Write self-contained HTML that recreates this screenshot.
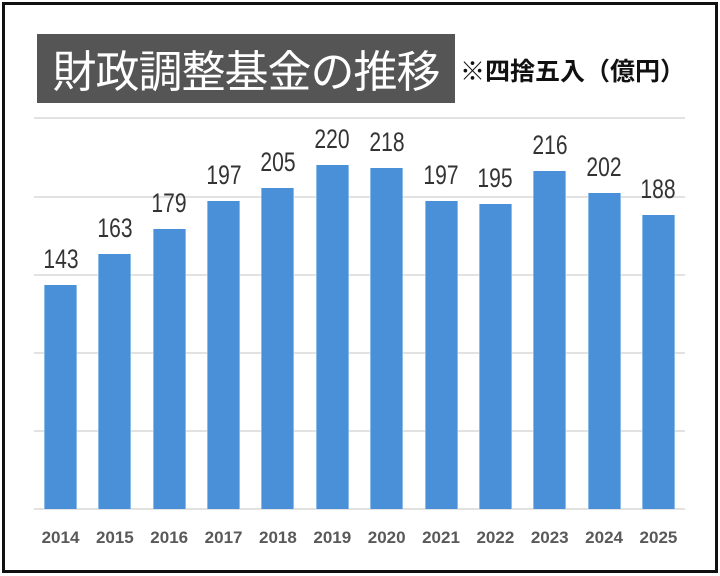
<!DOCTYPE html>
<html><head><meta charset="utf-8"><style>
body{margin:0;width:720px;height:576px;background:#fff;overflow:hidden;font-family:"Liberation Sans","Noto Sans CJK JP",sans-serif}
.frame{position:absolute;left:2px;top:2px;width:710px;height:565px;border:3px solid #111;}
.title{position:absolute;left:37px;top:34px;width:418px;height:69px;background:#555;color:#fff;font-size:44px;line-height:69px;text-align:center;font-family:"Noto Sans CJK JP",sans-serif;letter-spacing:-1px;white-space:nowrap;overflow:hidden}
.sub{position:absolute;left:460px;top:52px;font-size:25px;font-weight:bold;color:#111;font-family:"Noto Sans CJK JP",sans-serif;white-space:nowrap}
.g{position:absolute;left:34px;width:651px;height:2px;background:#e2e2e2}
.b{position:absolute;width:33px;background:#4a90d9;border-left:1px solid #8bbbe8;border-right:1px solid #8bbbe8;box-sizing:border-box}
.v{position:absolute;width:60px;text-align:center;font-size:27px;color:#333;transform:scaleX(0.78)}
.x{position:absolute;width:60px;text-align:center;top:528px;font-size:17px;font-weight:bold;color:#595959}
</style></head><body>
<div class="frame"></div>
<div class="title">財政調整基金の推移</div>
<div class="sub">※四捨五入（億円）</div>
<div class="g" style="top:117px"></div>
<div class="g" style="top:196px"></div>
<div class="g" style="top:274px"></div>
<div class="g" style="top:352px"></div>
<div class="g" style="top:430px"></div>
<div class="g" style="top:508px"></div>
<script>
var d=[143,163,179,197,205,220,218,197,195,216,202,188];
for(var i=0;i<12;i++){var x=44+i*54.36,h=d[i]*1.564,t=509-h;
document.write('<div class="b" style="left:'+x+'px;top:'+t+'px;height:'+h+'px"></div>');
document.write('<div class="v" style="left:'+(x-13.5)+'px;top:'+(t-41)+'px">'+d[i]+'</div>');
document.write('<div class="x" style="left:'+(x-13.5)+'px">'+(2014+i)+'</div>');}
</script>
</body></html>
